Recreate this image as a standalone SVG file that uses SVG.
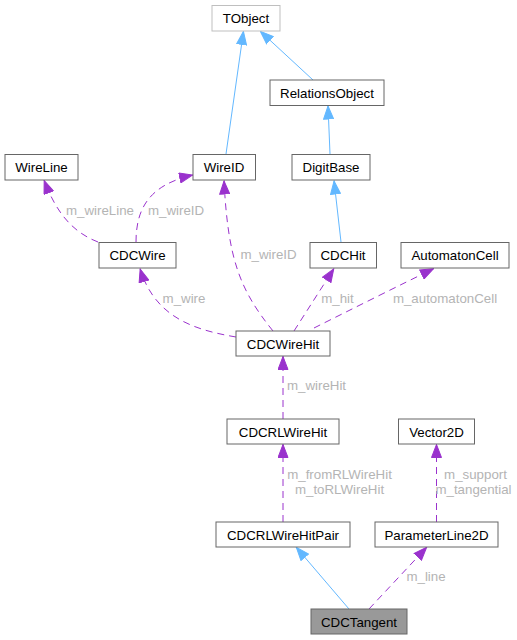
<svg xmlns="http://www.w3.org/2000/svg" width="517" height="640" viewBox="0 0 517 640">
<style>
.node rect{fill:#ffffff;stroke:#666666;stroke-width:1}
.node text{font-family:"Liberation Sans",Arial,Helvetica,sans-serif;font-size:13.3px;fill:#000000;text-anchor:middle}
.inh{fill:none;stroke:#63b8ff;stroke-width:1}
.use{fill:none;stroke:#9a32cd;stroke-width:1;stroke-dasharray:7,5}
.lbl{font-family:"Liberation Sans",Arial,Helvetica,sans-serif;font-size:13.3px;fill:#b4b4b4;text-anchor:middle}
</style>
<defs>
<marker id="ab" markerUnits="userSpaceOnUse" markerWidth="14" markerHeight="11" refX="14" refY="5.5" orient="auto" viewBox="0 0 14 11">
<path d="M0.5,0.5 L13.5,5.5 L0.5,10.5 z" fill="#63b8ff" stroke="#63b8ff"/>
</marker>
<marker id="ap" markerUnits="userSpaceOnUse" markerWidth="14" markerHeight="11" refX="14" refY="5.5" orient="auto" viewBox="0 0 14 11">
<path d="M0.5,0.5 L13.5,5.5 L0.5,10.5 z" fill="#9a32cd" stroke="#9a32cd"/>
</marker>
</defs>
<rect width="517" height="640" fill="#ffffff"/>
<g id="edges">
<path class="inh" d="M226,154 L243.5,31" marker-end="url(#ab)"/>
<path class="inh" d="M313,80 L260,31" marker-end="url(#ab)"/>
<path class="inh" d="M330,154 L328,105.5" marker-end="url(#ab)"/>
<path class="inh" d="M341,242 L334,180.5" marker-end="url(#ab)"/>
<path class="use" d="M98,242 C72,232 56,212 44,180" marker-end="url(#ap)"/>
<text class="lbl" x="100" y="215">m_wireLine</text>
<path class="use" d="M136,242 C136,210 148,185 193,175" marker-end="url(#ap)"/>
<text class="lbl" x="176" y="215">m_wireID</text>
<path class="use" d="M273,331 C240,290 228,260 224,180.5" marker-end="url(#ap)"/>
<text class="lbl" x="268.5" y="258.5">m_wireID</text>
<path class="use" d="M236,337 C195,330 155,318 140,268.5" marker-end="url(#ap)"/>
<text class="lbl" x="184" y="302.5">m_wire</text>
<path class="use" d="M294,331 L334,268.5" marker-end="url(#ap)"/>
<text class="lbl" x="337.5" y="302.5">m_hit</text>
<path class="use" d="M314,328 C350,310 400,285 434,268.5" marker-end="url(#ap)"/>
<text class="lbl" x="445" y="302.5">m_automatonCell</text>
<path class="use" d="M283,419 L283,356" marker-end="url(#ap)"/>
<text class="lbl" x="316.5" y="390">m_wireHit</text>
<path class="use" d="M283,522 L283,444" marker-end="url(#ap)"/>
<text class="lbl" x="339.5" y="479">m_fromRLWireHit</text>
<text class="lbl" x="339.5" y="493.5">m_toRLWireHit</text>
<path class="use" d="M436.5,522 L436.5,444" marker-end="url(#ap)"/>
<text class="lbl" x="475.5" y="479">m_support</text>
<text class="lbl" x="473.5" y="493.5">m_tangential</text>
<path class="inh" d="M349,609 L296,547" marker-end="url(#ab)"/>
<path class="use" d="M369,609 L427,547" marker-end="url(#ap)"/>
<text class="lbl" x="426" y="581">m_line</text>
</g>
<g id="TObject" class="node"><rect x="212" y="5.5" width="68" height="25.5" style="stroke:#bfbfbf"/><text x="246" y="23">TObject</text></g>
<g id="RelationsObject" class="node"><rect x="270" y="80" width="114" height="25.5"/><text x="327" y="97.5">RelationsObject</text></g>
<g id="WireLine" class="node"><rect x="5" y="154.5" width="73" height="25.5"/><text x="41.5" y="172">WireLine</text></g>
<g id="WireID" class="node"><rect x="193" y="154.5" width="62.5" height="25.5"/><text x="224" y="172">WireID</text></g>
<g id="DigitBase" class="node"><rect x="292" y="154.5" width="78" height="25.5"/><text x="331" y="172">DigitBase</text></g>
<g id="CDCWire" class="node"><rect x="99" y="242.5" width="77" height="25.5"/><text x="137.5" y="260">CDCWire</text></g>
<g id="CDCHit" class="node"><rect x="310" y="242.5" width="66.5" height="25.5"/><text x="343" y="260">CDCHit</text></g>
<g id="AutomatonCell" class="node"><rect x="401" y="242.5" width="108" height="25.5"/><text x="455" y="260">AutomatonCell</text></g>
<g id="CDCWireHit" class="node"><rect x="236" y="331" width="94" height="25"/><text x="283" y="348.5">CDCWireHit</text></g>
<g id="CDCRLWireHit" class="node"><rect x="227" y="419" width="112" height="25"/><text x="283" y="436.5">CDCRLWireHit</text></g>
<g id="Vector2D" class="node"><rect x="398.5" y="419" width="76" height="25"/><text x="436.5" y="436.5">Vector2D</text></g>
<g id="CDCRLWireHitPair" class="node"><rect x="216" y="522" width="134" height="25"/><text x="283" y="539.5">CDCRLWireHitPair</text></g>
<g id="ParameterLine2D" class="node"><rect x="375" y="522" width="123" height="25"/><text x="436.5" y="539.5">ParameterLine2D</text></g>
<g id="CDCTangent" class="node"><rect x="311" y="609" width="96" height="25" style="fill:#999999"/><text x="359" y="626.5">CDCTangent</text></g>
</svg>
